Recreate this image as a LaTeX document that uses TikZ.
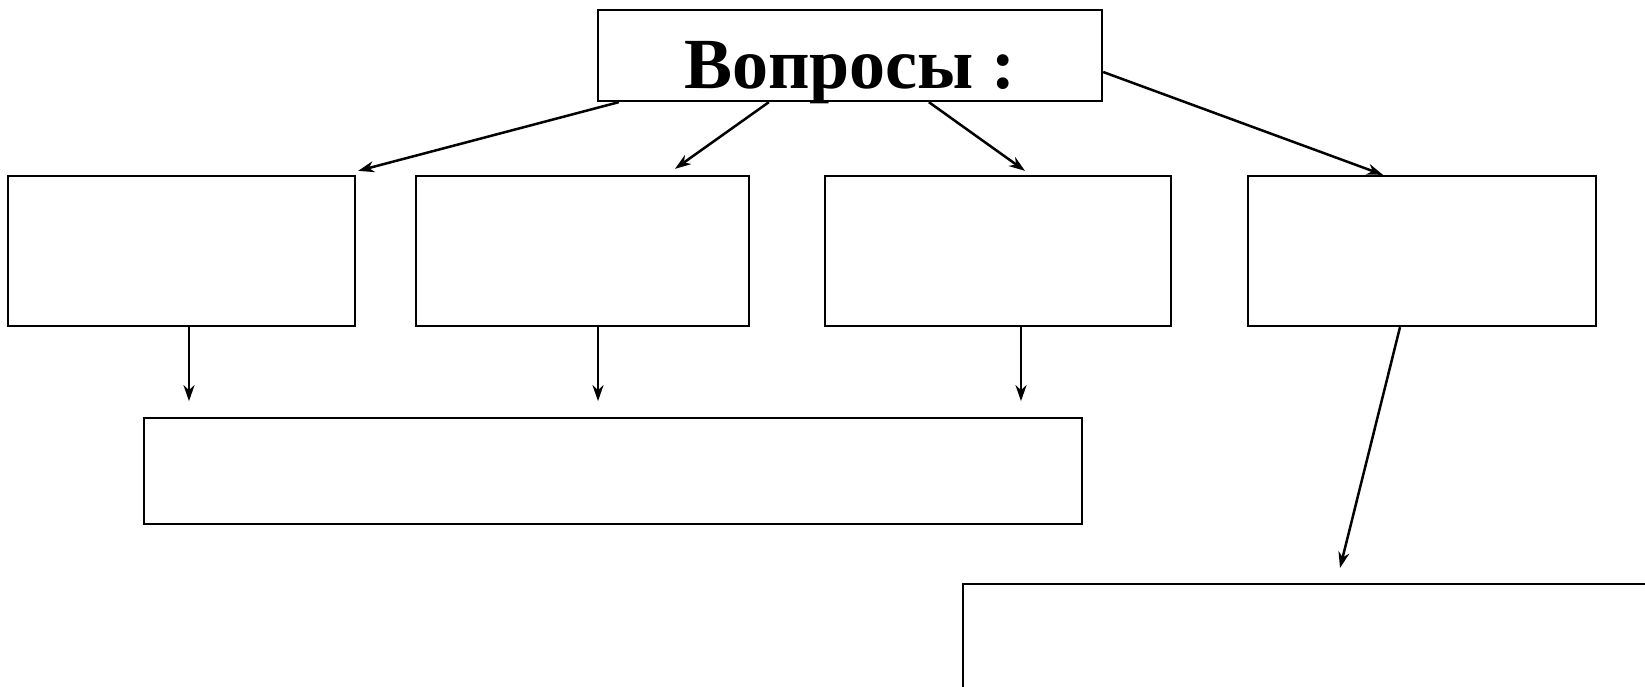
\documentclass[tikz,border=0pt]{standalone}
\usepackage{fontspec}
\setmainfont{Liberation Serif}
\usetikzlibrary{calc,arrows.meta}
\begin{document}
\begin{tikzpicture}[x=1pt,y=-1pt,
  box/.style={draw,line width=2.3pt,inner sep=0pt,anchor=center},
  conn/.style={line width=2.5pt,-{Stealth[length=16pt,width=11pt,inset=5pt]}}]
\useasboundingbox (0,0) rectangle (1645,687);
\clip (0,0) rectangle (1645,687);
\node[box,minimum width=504pt,minimum height=91pt] (title) at (850,55.5) {};
\node[inner sep=0pt,font=\bfseries\fontsize{72}{72}\selectfont] (titletext) at ($(title.center)+(0,17)$) {Вопросы :};
\node[box,minimum width=347pt,minimum height=150pt] (b1) at (181.5,251) {};
\node[box,minimum width=333pt,minimum height=150pt] (b2) at (582.5,251) {};
\node[box,minimum width=346pt,minimum height=150pt] (b3) at (998,251) {};
\node[box,minimum width=348pt,minimum height=150pt] (b4) at (1422,251) {};
\node[box,minimum width=938pt,minimum height=106pt] (wide) at (613,471) {};
\node[box,anchor=north west,minimum width=800pt,minimum height=200pt] (low) at (962,583) {};
\draw[conn] ($(title.south west)+(22,0)$) -- ($(b1.north east)+(2,-4)$);
\draw[conn] ($(title.south west)+(172,0)$) -- ($(b2.north)+(92.5,-6)$);
\draw[conn] ($(title.south west)+(332,0)$) -- ($(b3.north)+(27,-4)$);
\draw[conn] ($(title.east)+(0,16.5)$) -- ($(b4.north)+(-39,0)$);
\draw[conn] ($(b1.south)+(7.5,0)$) -- ($(b1.south)+(7.5,74)$);
\draw[conn] ($(b2.south)+(15.5,0)$) -- ($(b2.south)+(15.5,74)$);
\draw[conn] ($(b3.south)+(23,0)$) -- ($(b3.south)+(23,74)$);
\draw[conn] ($(b4.south)+(-22,0)$) -- ($(low.north west)+(378,-15)$);
\end{tikzpicture}
\end{document}
